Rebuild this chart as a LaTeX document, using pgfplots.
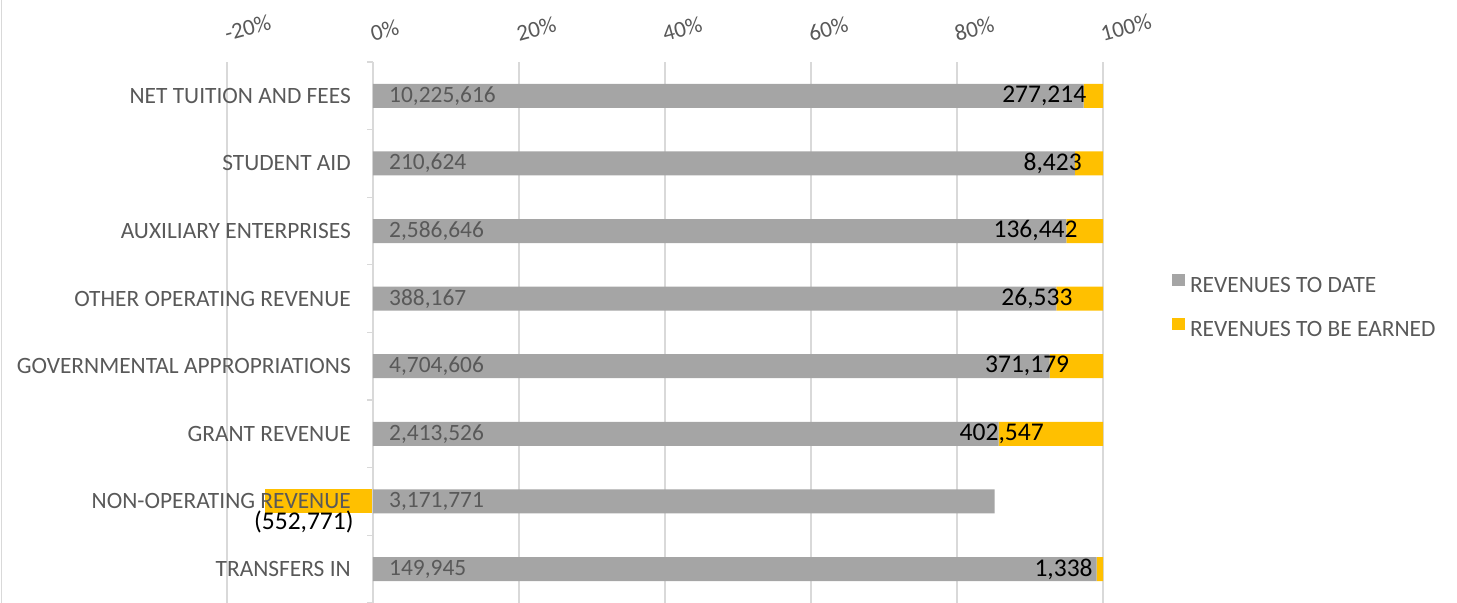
\documentclass[border=0pt]{standalone}
\usepackage{fontspec}
\setmainfont{Carlito}
\usepackage{pgfplots}
\pgfplotsset{compat=1.18}
\usepackage{pgfplotstable}

\definecolor{gbar}{HTML}{A5A5A5}
\definecolor{ybar}{HTML}{FFC000}
\definecolor{txt}{HTML}{595959}
\definecolor{gridc}{HTML}{D9D9D9}

% Share of each row (100% stacked, Excel uses the sum of absolute values)
\pgfplotstableread{
y p1 lab1
0 97.36 10,225,616
1 96.15 210,624
2 94.99 2,586,646
3 93.60 388,167
4 92.69 4,704,606
5 85.71 2,413,526
6 85.16 3,171,771
7 99.12 149,945
}\todate

\pgfplotstableread{
y p2 lab2
0 2.64 277,214
1 3.85 8,423
2 5.01 136,442
3 6.40 26,533
4 7.31 371,179
5 14.29 402,547
6 0.00 {}
7 0.88 1,338
}\tobeearned

\pgfplotstableread{
y p2 lab2
6 -14.84 (552,771)
}\negearned

\pgfplotsset{
  base/.style={scale only axis, width=876pt, height=540.8pt,
    xmin=-20, xmax=100, ymin=-0.5, ymax=7.5, y dir=reverse,
    at={(0pt,0pt)}, anchor=south west, clip=false},
}

\newcommand{\catfont}{\fontsize{23.4}{28}\selectfont}
\newcommand{\tickfont}{\fontsize{23}{28}\selectfont}
\newcommand{\blkfont}{\fontsize{25.5}{30}\selectfont}

\begin{document}
\begin{tikzpicture}
\path[use as bounding box] (-227pt,0pt) rectangle (1230pt,602.8pt);
\draw[gridc, line width=1pt] (-225.5pt,0pt) -- (-225.5pt,602.8pt);

% layer 1: the negative part
\begin{axis}[base, hide axis]
\addplot[xbar, bar width=24pt, bar shift=0pt, fill=ybar, draw=none,
  nodes near coords, point meta=explicit symbolic,
  every node near coord/.append style={anchor=west, xshift=-10.7pt, yshift=-20.6pt,
    inner sep=0pt, font=\blkfont, text=black}]
  table[x=p2, y=y, meta=lab2] {\negearned};
\end{axis}

% layer 2: main axis
\begin{axis}[base,
  xbar stacked, bar width=24pt,
  axis x line*=top, axis y line=middle,
  hide obscured x ticks=false, hide obscured y ticks=false,
  x axis line style={draw=none},
  y axis line style={draw=gridc, line width=1.2pt, -},
  xtick={-20,0,20,40,60,80,100},
  xticklabels={-20\%,0\%,20\%,40\%,60\%,80\%,100\%},
  xmajorgrids, grid style={draw=gridc, line width=1.2pt},
  ytick={0,...,7},
  yticklabels={NET TUITION AND FEES, STUDENT AID, AUXILIARY ENTERPRISES,
    OTHER OPERATING REVENUE, GOVERNMENTAL APPROPRIATIONS, GRANT REVENUE,
    NON-OPERATING REVENUE, TRANSFERS IN},
  minor ytick={-0.5,0.5,...,7.5},
  major tick length=0pt, minor tick length=6pt,
  tick align=outside,
  ytick style={draw=gridc, line width=1.2pt},
  xtick style={draw=none},
  yticklabel style={font=\catfont, text=txt, inner sep=0pt, anchor=east, xshift=-22pt},
  xticklabel style={font=\tickfont, text=txt, inner sep=0pt, yshift=20pt, rotate=15, anchor=south west},
  legend style={at={(1.0788,0.5455)}, anchor=west, draw=none, fill=none,
    inner sep=0pt, outer sep=0pt, row sep=20pt, column sep=5.5pt,
    font=\catfont, text=txt,
    nodes={inner sep=0pt, text height=16pt, text depth=5pt}},
  legend cell align=left,
  legend image code/.code={\fill[#1] (0pt,1pt) rectangle (12.5pt,13.5pt);},
]
\addplot[fill=gbar, draw=none] table[x=p1, y=y] {\todate};
\addlegendentry{REVENUES TO DATE}
\addplot[fill=ybar, draw=none,
  nodes near coords, point meta=explicit symbolic,
  every node near coord/.append style={anchor=east, xshift=-7pt,
    inner sep=0pt, font=\blkfont, text=black}]
  table[x=p2, y=y, meta=lab2] {\tobeearned};
\addlegendentry{REVENUES TO BE EARNED}
\end{axis}

% layer 3: labels of revenues to date, inside base
\begin{axis}[base, hide axis]
\addplot[only marks, mark=none,
  nodes near coords, point meta=explicit symbolic,
  every node near coord/.append style={anchor=west, xshift=16pt,
    inner sep=0pt, font=\catfont, text=txt}]
  table[x expr=0, y=y, meta=lab1] {\todate};
\end{axis}
\end{tikzpicture}
\end{document}
